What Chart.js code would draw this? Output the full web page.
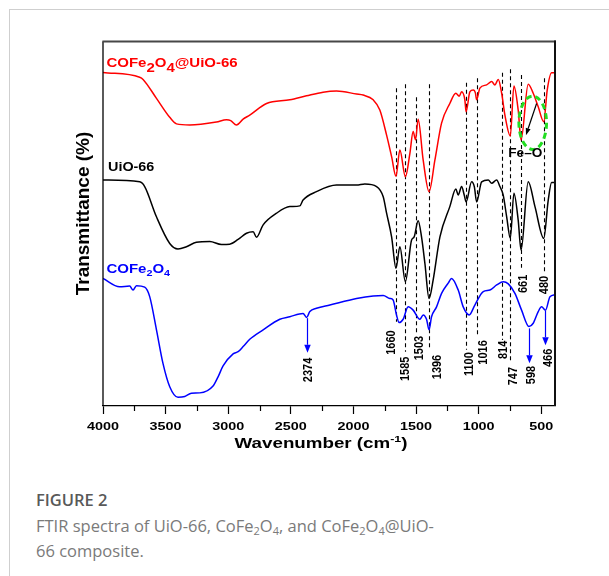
<!DOCTYPE html>
<html>
<head>
<meta charset="utf-8">
<script src="https://cdn.jsdelivr.net/npm/chart.js@4/dist/chart.umd.min.js"></script>
<style>
  html, body { margin: 0; padding: 0; background: #fff; width: 609px; height: 576px; overflow: hidden; }
  #frame { position: absolute; left: 9px; top: 9px; width: 700px; height: 700px;
           border-left: 1.5px solid #cfcfcf; border-top: 1.5px solid #cfcfcf; }
  #chart { position: absolute; left: 0; top: 0; }
  .cap { position: absolute; left: 36px; top: 487px; font-family: "Open Sans", sans-serif;
         font-size: 16.5px; line-height: 25.5px; color: #7a7a7a; white-space: nowrap; }
  .cap b { font-weight: 600; color: #595959; }
  .cap sub { font-size: 11px; vertical-align: -3px; line-height: 0; }
</style>
</head>
<body>
<div id="frame"></div>
<canvas id="chart" width="609" height="470"></canvas>
<div class="cap"><b>FIGURE 2</b><br>FTIR spectra of UiO-66, CoFe<sub>2</sub>O<sub>4</sub>, and CoFe<sub>2</sub>O<sub>4</sub>@UiO-<br>66 composite.</div>

<script>
// ---- Spectra (wavenumber in cm-1, transmittance in offset arbitrary %) ----
const wnComposite = [4000,3707,3680,3573,3467,3413,3307,3094,3014,2980,2934,2881,2828,2694,2508,2375,2242,2135,1975,1922,
  1842,1789,1735,1695,1660,1629,1585,1549,1523,1504,1483,1443,1396,1349,1296,1230,1182,1155,1136,1110,
  1100,1070,1043,1026,1016,990,936,896,870,843,816,790,747,718,684,661,604,564,524,480,452,417,390];
const tComposite = [91.5,90.2,89.6,84.4,79.2,77.4,77.1,77.9,78.5,78.3,77.1,78.7,79.8,83.0,84.0,85.1,86.1,86.4,85.6,85.3,
  84.0,81.2,74.3,68.4,63.0,70.2,62.9,69.3,75.3,73.0,78.7,67.5,58.8,67.5,77.6,83.0,85.8,85.0,86.2,84.0,
  80.7,86.2,86.7,85.9,84.0,87.2,88.1,89.0,88.1,89.6,85.8,79.8,74.1,87.8,81.2,73.0,88.3,85.8,82.1,78.0,86.7,91.4,91.4];

const wnUio = [4000,3707,3667,3573,3467,3401,3334,3254,3147,3054,2988,2921,2854,2801,2774,2721,2614,2508,2428,2402,
  2295,2135,1975,1909,1815,1762,1735,1695,1660,1629,1585,1536,1515,1483,1456,1429,1396,1363,1309,1230,
  1182,1163,1136,1115,1100,1056,1034,1016,976,923,896,856,830,804,776,747,718,684,661,604,550,480,444,417,390];
const tUio = [62.0,61.5,60.2,51.9,44.6,43.1,43.7,44.9,45.1,44.3,44.4,45.7,47.4,47.8,46.3,49.7,52.9,54.7,54.9,56.5,
  58.8,60.6,60.6,60.9,60.2,57.4,52.9,46.4,37.8,43.7,34.1,45.5,46.4,50.8,46.4,39.1,29.5,34.6,46.4,54.7,
  59.5,57.9,60.2,57.9,56.0,61.5,60.1,56.0,61.5,62.0,61.1,62.0,60.2,57.9,51.9,46.0,58.4,51.0,42.8,61.5,54.7,46.0,56.5,61.3,61.3];

const wnFerrite = [4000,3867,3787,3760,3733,3667,3627,3573,3521,3467,3401,3347,3294,3227,3121,3081,3041,2961,2921,2881,
  2828,2721,2588,2508,2402,2374,2348,2295,2188,1975,1842,1762,1709,1683,1656,1635,1603,1563,1523,1469,
  1443,1416,1396,1376,1336,1296,1243,1216,1163,1123,1075,1030,963,910,856,803,763,710,657,598,564,524,497,466,430,390];
const tFerrite = [35.0,32.7,32.9,31.8,33.0,32.6,30.0,20.9,11.7,5.3,2.4,2.6,3.5,3.6,5.5,8.0,11.0,14.3,14.9,16.3,
  18.3,20.9,23.8,24.5,25.4,24.3,25.9,26.8,27.7,29.5,30.2,30.3,29.5,29.1,25.0,22.9,23.8,27.2,26.3,23.8,
  25.0,23.8,20.9,24.5,27.2,30.9,33.7,35.0,31.8,27.2,25.0,27.7,31.4,31.8,33.2,34.1,33.5,30.9,26.3,21.8,22.7,25.9,27.2,26.3,30.0,30.5];

// ---- Band assignments ----
const dashedBands = [1660, 1585, 1503, 1396, 1100, 1016, 814, 747, 661, 480];
const ferriteBands = [2374, 598, 466];
const xTickValues = [4000, 3500, 3000, 2500, 2000, 1500, 1000, 500];

// ---- Annotation placement (wavenumber, transmittance) ----
const dashSpan = {1660:[87.2,23.1],1585:[88.3,14.9],1503:[84.7,19.9],1396:[88.3,15.4],1100:[88.7,15.4],
  1016:[89.9,19.0],814:[91.4,18.1],747:[92.4,11.7],661:[90.8,37.9],480:[89.9,36.5]};
const labelPos = {1660:[1695,17.4],1585:[1589,10.2],1503:[1477,15.9],1396:[1328,10.7],1100:[1075,11.5],
  1016:[963,14.7],814:[803,15.4],747:[724,8.2],661:[644,33.5],480:[478,33.2],
  2374:[2362,9.9],598:[577,8.5],466:[444,13.2]};
const arrowSpan = {2374:[24.1,14.6],598:[21.3,11.7],466:[26.1,16.7]};

const FONT = '"Liberation Sans", Arial, Helvetica, sans-serif';

function pts(xs, ys) { return xs.map((x, i) => ({x, y: ys[i]})); }

// Draw a run of text pieces: [text, sizeFactor, dy]
function runs(ctx, parts, x, y, o) {
  ctx.save();
  ctx.translate(x, y);
  ctx.scale(o.sx || 1, 1);
  if (o.rot) ctx.rotate(o.rot);
  ctx.fillStyle = o.color || '#000';
  ctx.textBaseline = o.base || 'alphabetic';
  ctx.textAlign = 'left';
  const fonts = parts.map(p => `bold ${o.size * (p[1] || 1)}px ${FONT}`);
  let total = 0;
  parts.forEach((p, i) => { ctx.font = fonts[i]; total += ctx.measureText(p[0]).width; });
  let cx = o.align === 'center' ? -total / 2 : (o.align === 'right' ? -total : 0);
  parts.forEach((p, i) => { ctx.font = fonts[i]; ctx.fillText(p[0], cx, p[2] || 0); cx += ctx.measureText(p[0]).width; });
  ctx.restore();
}

function arrow(ctx, x1, y1, x2, y2, color, lw, hl, hw) {
  const a = Math.atan2(y2 - y1, x2 - x1);
  ctx.save();
  ctx.strokeStyle = color; ctx.fillStyle = color; ctx.lineWidth = lw;
  ctx.beginPath();
  ctx.moveTo(x1, y1);
  ctx.lineTo(x2 - hl * Math.cos(a), y2 - hl * Math.sin(a));
  ctx.stroke();
  ctx.translate(x2, y2); ctx.rotate(a);
  ctx.beginPath();
  ctx.moveTo(0, 0); ctx.lineTo(-hl, -hw / 2); ctx.lineTo(-hl, hw / 2); ctx.closePath();
  ctx.fill();
  ctx.restore();
}

const ftirDecor = {
  id: 'ftirDecor',
  beforeDatasetsDraw(chart) {
    const {ctx, scales: {x, y}} = chart;
    ctx.save();
    ctx.strokeStyle = '#000'; ctx.lineWidth = 1.1; ctx.setLineDash([4, 3]);
    dashedBands.forEach(w => {
      const px = Math.round(x.getPixelForValue(w)) + 0.5;
      ctx.beginPath();
      ctx.moveTo(px, y.getPixelForValue(dashSpan[w][0]));
      ctx.lineTo(px, y.getPixelForValue(dashSpan[w][1]));
      ctx.stroke();
    });
    ctx.restore();
  },
  afterDatasetsDraw(chart) {
    const {ctx, scales: {x, y}} = chart;
    const X = v => x.getPixelForValue(v), Y = v => y.getPixelForValue(v);

    // band labels
    [...dashedBands, ...ferriteBands].forEach(w => {
      const [lw, lt] = labelPos[w];
      runs(ctx, [[String(w)]], X(lw), Y(lt), {size: 11, sx: 1.2, rot: -Math.PI / 2, align: 'center', base: 'middle'});
    });

    // ferrite band arrows
    ferriteBands.forEach(w => {
      const px = Math.round(X(w)) + 0.5;
      arrow(ctx, px, Y(arrowSpan[w][0]), px, Y(arrowSpan[w][1]), '#0000ff', 1.2, 8, 6.5);
    });

    // Fe–O region
    ctx.save();
    ctx.strokeStyle = '#22dd22'; ctx.lineWidth = 3; ctx.setLineDash([6, 4]);
    ctx.beginPath();
    ctx.ellipse(X(568), Y(77.7), 13.8, 26.7, 0, 0, Math.PI * 2);
    ctx.stroke();
    ctx.restore();
    arrow(ctx, X(537), Y(83.0), X(622), Y(74.3), '#000', 1.2, 7, 5);
    runs(ctx, [['Fe\u2013O']], X(627), Y(69.4), {size: 13, sx: 1.05, align: 'center', base: 'middle'});

    // series names
    runs(ctx, [['COFe'], ['2', 1, 5], ['O'], ['4', 1, 5], ['@UiO-66']], X(3973), Y(93.1), {size: 12.5, sx: 1.2, color: '#ff0000'});
    runs(ctx, [['UiO-66']], X(3960), Y(64.5), {size: 12.5, sx: 1.15, color: '#000'});
    runs(ctx, [['COFe'], ['2', 0.72, 3], ['O'], ['4', 0.72, 3]], X(3973), Y(36.6), {size: 12.5, sx: 1.2, color: '#0000ff'});
  },
  afterDraw(chart) {
    const {ctx, chartArea: ca, scales: {x}} = chart;
    ctx.save();
    // frame
    ctx.strokeStyle = '#000'; ctx.lineWidth = 1.3;
    ctx.beginPath(); ctx.moveTo(ca.left, ca.bottom); ctx.lineTo(ca.left, ca.top); ctx.stroke();
    ctx.strokeStyle = '#474747'; ctx.lineWidth = 2;
    ctx.beginPath(); ctx.moveTo(ca.left - 0.6, ca.top); ctx.lineTo(ca.right + 1, ca.top); ctx.stroke();
    ctx.strokeStyle = '#111'; ctx.lineWidth = 2;
    ctx.beginPath(); ctx.moveTo(ca.right, ca.top - 1); ctx.lineTo(ca.right, ca.bottom); ctx.stroke();
    // minor ticks
    ctx.strokeStyle = '#000'; ctx.lineWidth = 1.2;
    for (let v = 750; v < 4000; v += 500) {
      const px = Math.round(x.getPixelForValue(v)) + 0.5;
      ctx.beginPath(); ctx.moveTo(px, ca.bottom); ctx.lineTo(px, ca.bottom + 5); ctx.stroke();
    }
    ctx.restore();
    // tick labels from the scale's ticks
    x.ticks.forEach(t => {
      runs(ctx, [[String(t.value)]], x.getPixelForValue(t.value), ca.bottom + 23.5, {size: 11.5, sx: 1.25, align: 'center'});
    });
    // axis titles
    runs(ctx, [['Wavenumber (cm'], ['-1', 0.66, -6], [')']], 321, ca.bottom + 41.5, {size: 15, sx: 1.25, align: 'center'});
    runs(ctx, [['Transmittance (%)']], ca.left - 19, ca.top + 172, {size: 19, sx: 1, rot: -Math.PI / 2, align: 'center', base: 'middle'});
  }
};

new Chart(document.getElementById('chart'), {
  type: 'line',
  data: {
    datasets: [
      {label: 'CoFe2O4@UiO-66', data: pts(wnComposite, tComposite), borderColor: '#ff0000'},
      {label: 'UiO-66', data: pts(wnUio, tUio), borderColor: '#000000'},
      {label: 'CoFe2O4', data: pts(wnFerrite, tFerrite), borderColor: '#0000ff'}
    ]
  },
  options: {
    responsive: false,
    animation: false,
    devicePixelRatio: 1,
    layout: {padding: {left: 103, right: 54, top: 41.5, bottom: 0}},
    elements: {
      line: {borderWidth: 1.5, tension: 0, cubicInterpolationMode: 'monotone', fill: false},
      point: {radius: 0}
    },
    plugins: {legend: {display: false}, tooltip: {enabled: false}},
    scales: {
      x: {
        type: 'linear', reverse: true, min: 390, max: 4000,
        afterFit(s) { s.height = 64; },
        afterBuildTicks(s) { s.ticks = xTickValues.map(v => ({value: v})); },
        ticks: {display: false, includeBounds: false},
        grid: {display: true, drawOnChartArea: false, drawTicks: true, tickLength: 8, color: '#000', tickColor: '#000', tickWidth: 1.2},
        border: {display: true, color: '#000', width: 1.3}
      },
      y: {min: 0, max: 100, display: false}
    }
  },
  plugins: [ftirDecor]
});
</script>
</body>
</html>
